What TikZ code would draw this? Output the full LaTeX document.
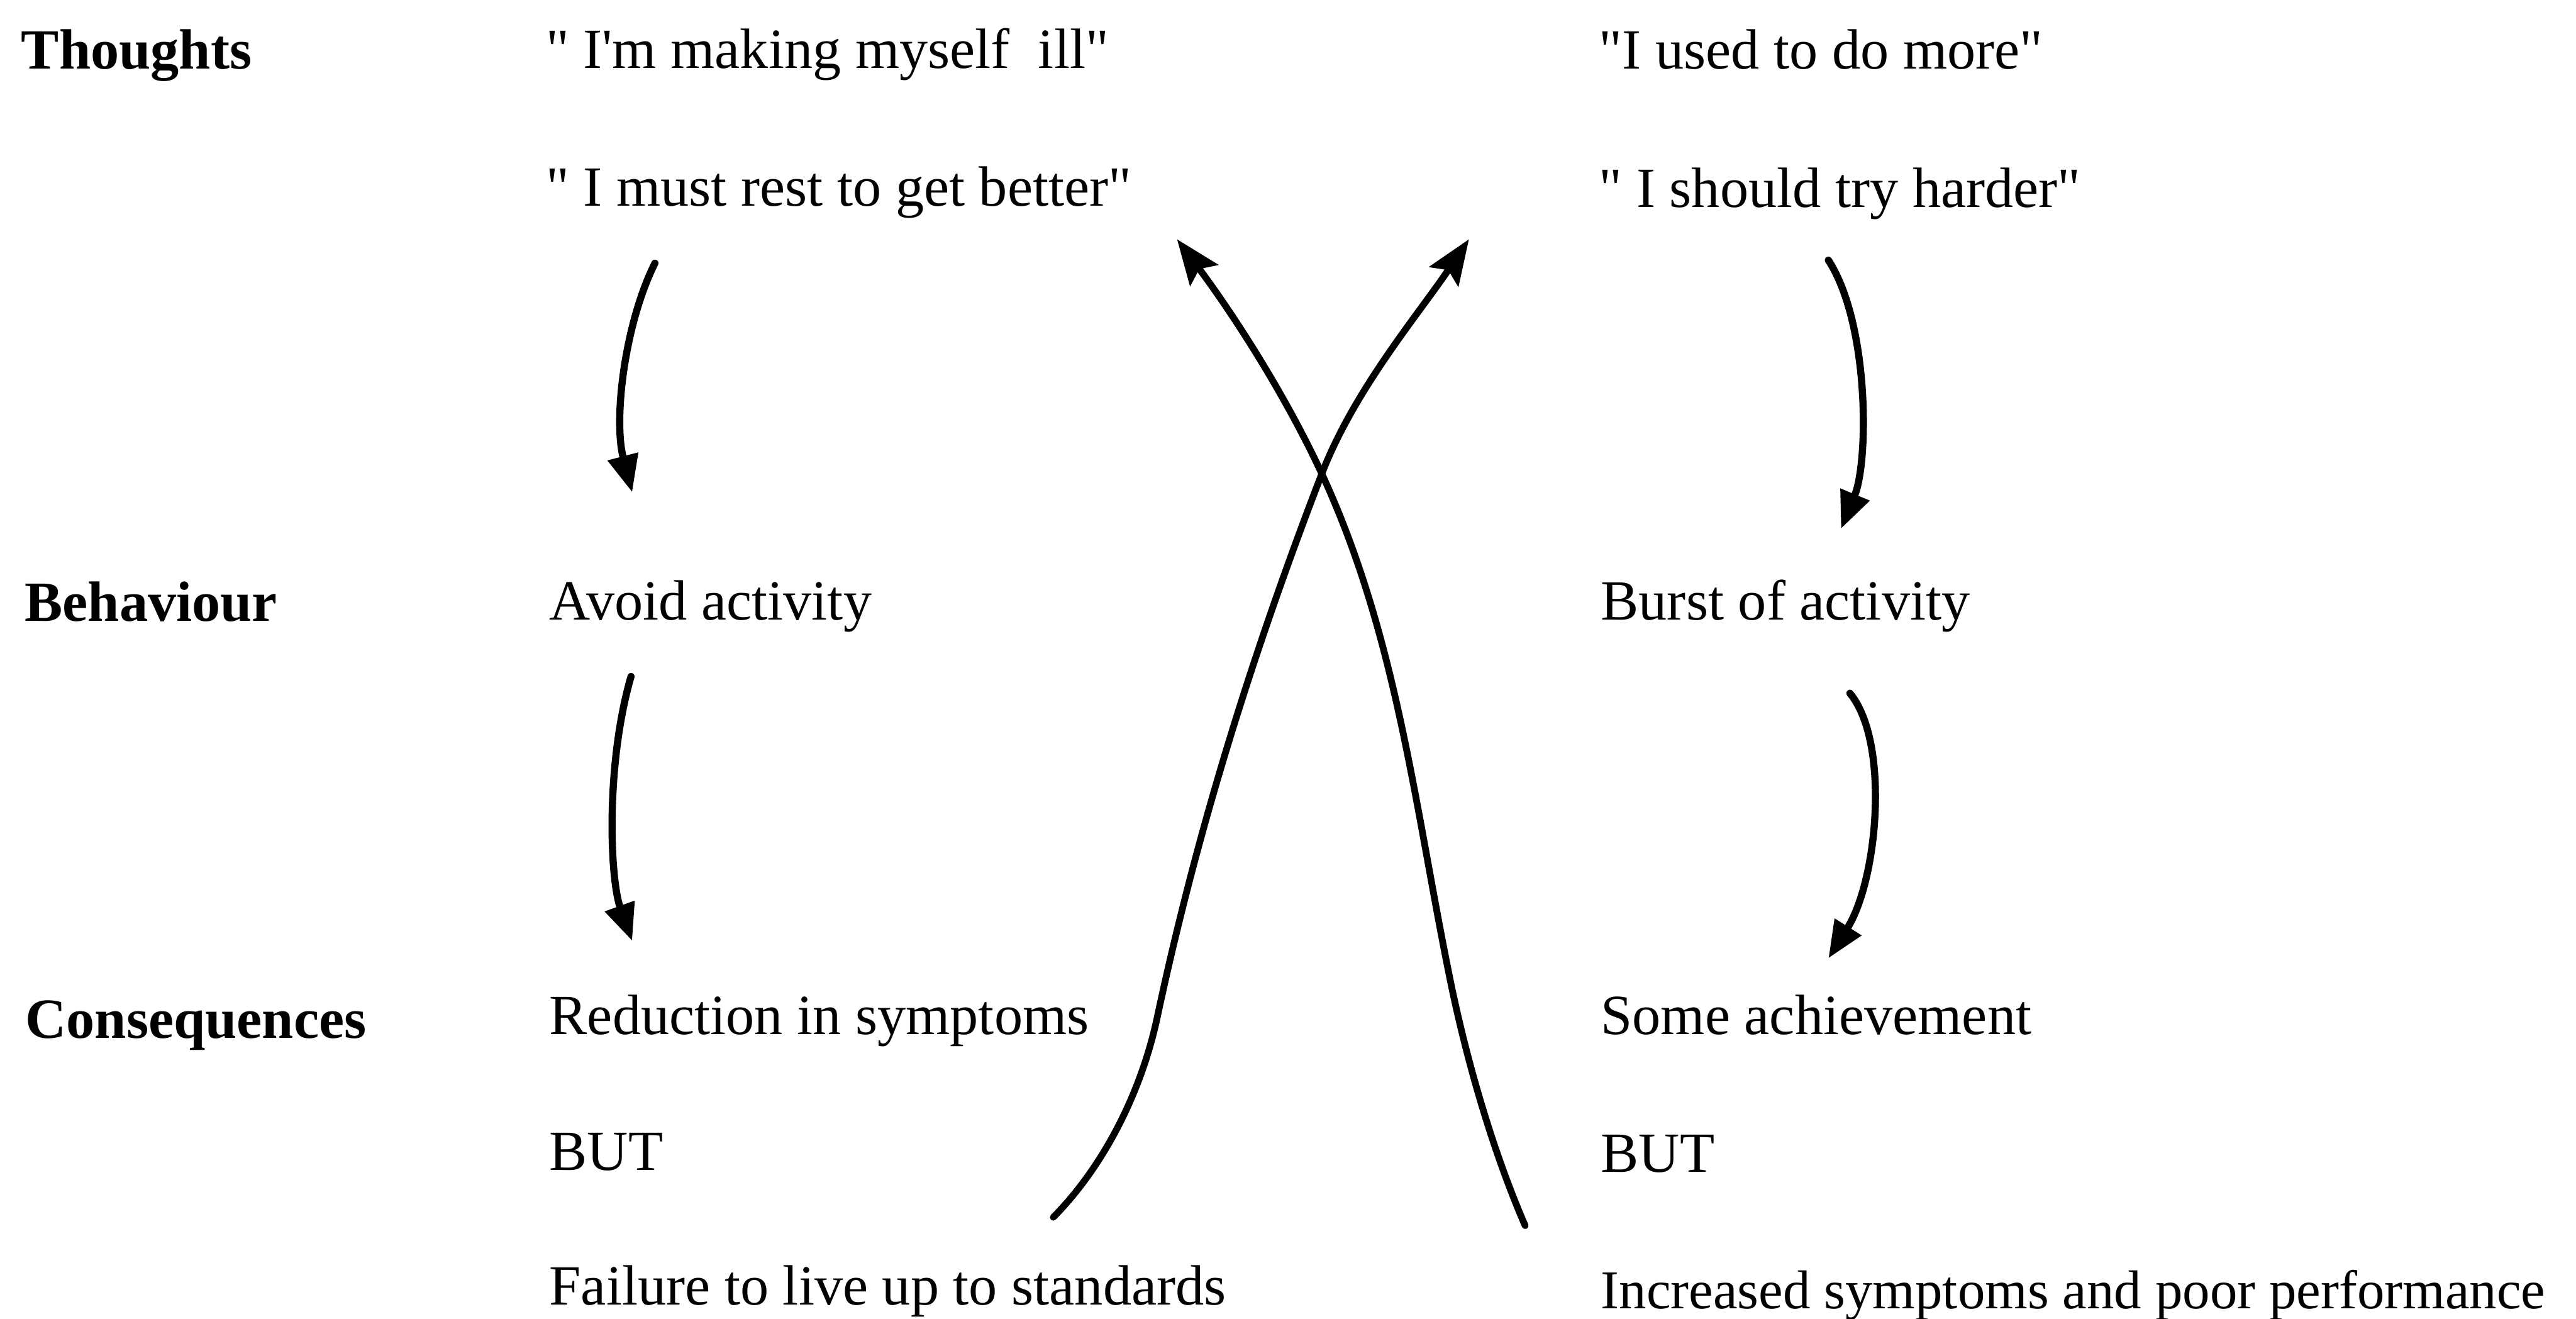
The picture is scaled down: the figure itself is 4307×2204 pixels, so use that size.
\documentclass[tikz,border=0pt]{standalone}
\usepackage{fontspec}
\setmainfont{Liberation Serif}[Ligatures=TeXOff]
\usetikzlibrary{arrows.meta}
\begin{document}
\begin{tikzpicture}[x=0.01cm,y=-0.01cm,
  txt/.style={anchor=base west, inner sep=0pt, font=\fontsize{27pt}{32pt}\selectfont},
  lbl/.style={anchor=base west, inner sep=0pt, font=\fontsize{27pt}{32pt}\selectfont\bfseries},
  flow/.style={line width=3.4pt, line cap=round, -{Triangle[length=0.62cm,width=0.5cm]}},
  cross/.style={line width=3.2pt, line cap=round, -{Stealth[length=0.75cm,width=0.58cm,inset=0.13cm]}}]
\fill[white] (0,0) rectangle (4307,2204);
\useasboundingbox (0,0) rectangle (4307,2204);

% row labels
\node[lbl] (thoughts) at (35,115) {Thoughts};
\node[lbl] (behaviour) at (41,1038) {Behaviour};
\node[lbl] (conseq) at (42,1735) {Consequences};

% left column
\node[txt] (t1) at (912,114) {" I'm making myself~ ill"};
\node[txt] (t2) at (912,344) {" I must rest to get better"};
\node[txt] (b1) at (918,1036) {Avoid activity};
\node[txt] (c1) at (918,1729) {Reduction in symptoms};
\node[txt] (but1) at (918,1956) {BUT};
\node[txt] (f1) at (918,2181) {Failure to live up to standards};

% right column
\node[txt] (t3) at (2673,115) {"I used to do more"};
\node[txt] (t4) at (2673,347) {" I should try harder"};
\node[txt] (b2) at (2676,1036) {Burst of activity};
\node[txt] (c2) at (2676,1729) {Some achievement};
\node[txt] (but2) at (2676,1960) {BUT};
\node[txt, font=\fontsize{26pt}{32pt}\selectfont] (f2) at (2676,2188) {Increased symptoms and poor performance};

% arrow end points
\coordinate (l1s) at (1095,440);  \coordinate (l1e) at (1057,823);
\coordinate (l2s) at (1055,1131); \coordinate (l2e) at (1057,1573);
\coordinate (r1s) at (3057,435);  \coordinate (r1e) at (3078,884);
\coordinate (r2s) at (3093,1159); \coordinate (r2e) at (3057,1602);
\coordinate (xa) at (1761,2035);  \coordinate (xaend) at (2456,400);
\coordinate (xb) at (2550,2049);  \coordinate (xbend) at (1968,400);
\coordinate (xm) at (2210,792);

% vertical flow arrows
\draw[flow] (l1s) .. controls (1045,540) and (1025,700) .. (l1e);
\draw[flow] (l2s) .. controls (1012,1280) and (1020,1470) .. (l2e);
\draw[flow] (r1s) .. controls (3125,540) and (3125,770) .. (r1e);
\draw[flow] (r2s) .. controls (3160,1240) and (3140,1470) .. (r2e);

% crossing arrows
\draw[cross] (xa) .. controls (1845,1950) and (1908,1827) .. (1935,1700)
  .. controls (2002,1386) and (2095,1090) .. (xm)
  .. controls (2264,652) and (2372,525) .. (xaend);
\draw[cross] (xb) .. controls (2494,1920) and (2451,1767) .. (2425,1640)
  .. controls (2365,1346) and (2336,1065) .. (xm)
  .. controls (2147,656) and (2058,520) .. (xbend);
\end{tikzpicture}
\end{document}
